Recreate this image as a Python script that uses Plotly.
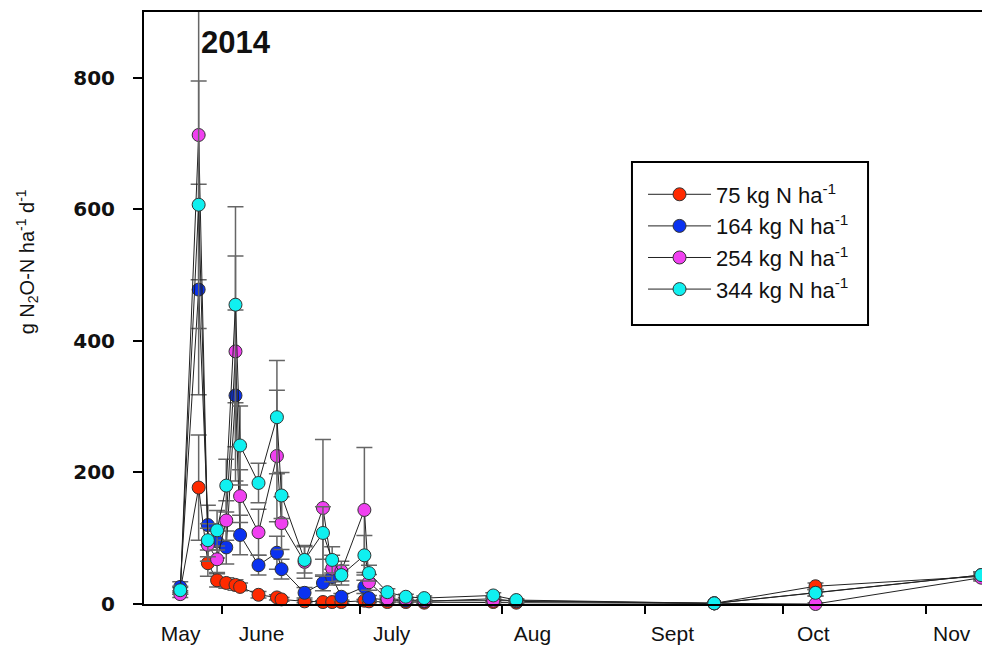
import plotly.graph_objects as go

# ---- data ----
dates = ["2014-05-23", "2014-05-27", "2014-05-29", "2014-05-31", "2014-06-02",
         "2014-06-04", "2014-06-05", "2014-06-09", "2014-06-13", "2014-06-14",
         "2014-06-19", "2014-06-23", "2014-06-25", "2014-06-27", "2014-07-02",
         "2014-07-03", "2014-07-07", "2014-07-11", "2014-07-15", "2014-07-30",
         "2014-08-04", "2014-09-16", "2014-10-08", "2014-11-13"]

n75 = [20, 177, 62, 36, 32, 29, 26, 14, 10, 7, 4, 3, 3, 3, 5, 4, 3, 3, 2, 3, 2, 1, 27, 42]
n164 = [26, 478, 120, 95, 86, 317, 105, 59, 78, 53, 17, 32, 41, 11, 26, 9, 6, 5, 4, 8, 4, 1, 17, 44]
n254 = [15, 713, 90, 68, 127, 384, 164, 109, 225, 123, 64, 146, 54, 50, 143, 33, 8, 7, 5, 5, 5, 1, 0, 40]
n344 = [21, 607, 97, 112, 180, 455, 241, 184, 284, 165, 67, 108, 67, 44, 74, 47, 18, 11, 9, 13, 6, 1, 17, 44]

e75 = [5, 80, 20, 10, 8, 8, 6, 5, 4, 3, 2, 2, 2, 2, 2, 2, 1, 1, 1, 1, 1, 0.5, 5, 5]
e164 = [8, 160, 30, 25, 25, 130, 30, 15, 25, 15, 8, 12, 12, 5, 10, 4, 3, 2, 2, 3, 2, 0.5, 5, 5]
e254 = [5, 220, 25, 20, 30, 145, 40, 35, 100, 40, 25, 104, 20, 15, 95, 12, 4, 3, 2, 3, 2, 0.5, 2, 5]
e344 = [6, 188, 25, 30, 40, 149, 60, 30, 86, 35, 20, 40, 20, 15, 30, 12, 5, 4, 3, 4, 2, 0.5, 5, 5]

series_names = ["75 kg N ha<sup>-1</sup>", "164 kg N ha<sup>-1</sup>",
                "254 kg N ha<sup>-1</sup>", "344 kg N ha<sup>-1</sup>"]
series_vals = [n75, n164, n254, n344]
series_err = [e75, e164, e254, e344]
fill_colors = ["#FF2A00", "#0A32F0", "#F040F0", "#10F0F0"]

month_starts = ["2014-06-01", "2014-07-01", "2014-08-01", "2014-09-01", "2014-10-01", "2014-11-01"]
label_pos = ["2014-05-23 02:00", "2014-06-09 16:00", "2014-07-07 22:00", "2014-08-07 12:00",
             "2014-09-06 22:00", "2014-10-07 12:00", "2014-11-06 14:00"]
label_text = ["May", "June", "July", "Aug", "Sept", "Oct", "Nov"]

y_ticks = [0, 200, 400, 600, 800]

FONT = "Liberation Sans, Arial, sans-serif"
TICKFONT = "DejaVu Sans, sans-serif"

fig = go.Figure()
for name, vals, errs, col in zip(series_names, series_vals, series_err, fill_colors):
    fig.add_trace(go.Scatter(
        x=dates, y=vals, name=name, mode="lines+markers",
        line=dict(color="#222222", width=1),
        marker=dict(size=13, color=col, line=dict(color="#333333", width=1)),
        error_y=dict(type="data", array=errs, visible=True, color="#666666",
                     thickness=1.5, width=8),
        cliponaxis=False,
    ))

fig.update_layout(
    width=982, height=649,
    margin=dict(l=144, r=0, t=12, b=45),
    paper_bgcolor="white", plot_bgcolor="white",
    font=dict(family=FONT, color="#111111"),
    showlegend=True,
    legend=dict(x=0.5955, y=0.6115, xanchor="left", yanchor="middle",
                borderwidth=0, bgcolor="rgba(0,0,0,0)",
                font=dict(family=FONT, size=22, color="#111111"),
                itemwidth=63),
    shapes=[dict(type="rect", xref="paper", yref="paper",
                 x0=0.5823, x1=0.864, y0=0.4713, y1=0.7466,
                 line=dict(color="black", width=2), fillcolor="rgba(0,0,0,0)",
                 layer="below")],
    annotations=[
        dict(text="<b>2014</b>", xref="paper", yref="paper",
             x=0.0656, y=0.949, xanchor="left", yanchor="middle",
             showarrow=False, font=dict(family=FONT, size=31, color="#111111")),
        dict(text="g N<sub>2</sub>O-N ha<sup>-1</sup> d<sup>-1</sup>",
             xref="paper", yref="paper", x=-0.139, y=0.578,
             xanchor="center", yanchor="middle", textangle=-90, showarrow=False,
             font=dict(family=FONT, size=20, color="#111111")),
    ],
)

fig.update_xaxes(
    type="date",
    range=["2014-05-15 03:00", "2014-11-13 04:00"],
    tickmode="array", tickvals=label_pos, ticktext=label_text,
    ticks="outside", ticklen=10, tickcolor="rgba(0,0,0,0)",
    tickfont=dict(family=FONT, size=21, color="#111111"),
    minor=dict(tickmode="array", tickvals=month_starts, ticks="outside",
               ticklen=8, tickwidth=2, tickcolor="black", showgrid=False),
    showline=True, linecolor="black", linewidth=2, mirror=True,
    showgrid=False, zeroline=False,
)

fig.update_yaxes(
    range=[0, 900],
    tickmode="array", tickvals=y_ticks,
    ticks="outside", ticklen=9, tickwidth=2, tickcolor="black",
    ticklabelstandoff=14,
    tickfont=dict(family=TICKFONT, size=20, color="#111111", weight="bold"),
    showline=True, linecolor="black", linewidth=2,
    showgrid=False, zeroline=False,
)

# remove the default 8px page margin so the 982x649 figure fills the window exactly
fig.write_html("out.html",
               config={"displayModeBar": False},
               post_script="document.body.style.margin='0';document.body.style.overflow='hidden';")
